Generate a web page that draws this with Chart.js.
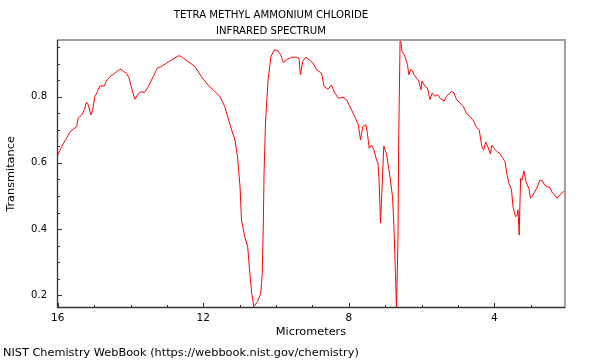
<!DOCTYPE html>
<html><head><meta charset="utf-8">
<script src="https://cdn.jsdelivr.net/npm/chart.js@4"></script>
<style>html,body{margin:0;padding:0;background:#fff}#wrap{width:600px;height:360px;position:relative}</style>
</head><body><div id="wrap"><canvas id="c" width="600" height="360"></canvas></div>
<script>
// ---- data (wavelength in micrometers, transmittance) ----
const wavelength = [
16.00,15.89,15.76,15.66,15.57,15.48,15.44,15.34,15.27,15.21,15.16,15.09,15.04,14.98,14.91,14.84,14.72,14.66,14.57,14.45,
14.34,14.26,14.20,14.11,14.04,13.97,13.88,13.79,13.71,13.62,13.51,13.38,13.26,13.15,13.01,12.87,12.69,12.64,12.55,12.42,
12.23,12.05,11.87,11.68,11.54,11.41,11.32,11.22,11.13,11.06,10.99,10.95,10.86,10.78,10.72,10.67,10.61,10.51,10.42,10.38,
10.35,10.33,10.29,10.22,10.14,10.05,9.96,9.87,9.80,9.71,9.57,9.44,9.37,9.33,9.27,9.18,9.09,8.98,8.89,8.75,
8.68,8.57,8.48,8.38,8.29,8.16,8.06,7.97,7.84,7.74,7.68,7.62,7.53,7.49,7.44,7.38,7.31,7.24,7.20,7.17,
7.13,7.09,7.04,6.96,6.87,6.80,6.76,6.72,6.69,6.65,6.63,6.59,6.54,6.48,6.43,6.39,6.35,6.30,6.25,6.21,
6.14,6.08,6.02,5.99,5.91,5.84,5.77,5.71,5.64,5.56,5.50,5.44,5.38,5.32,5.25,5.18,5.11,5.04,4.95,4.86,
4.77,4.68,4.59,4.49,4.42,4.36,4.33,4.29,4.24,4.18,4.11,4.07,3.99,3.93,3.85,3.78,3.71,3.65,3.60,3.53,
3.49,3.42,3.37,3.35,3.32,3.28,3.24,3.19,3.12,3.05,3.01,2.94,2.84,2.75,2.68,2.62,2.55,2.48,2.40,2.34,
2.28,2.20,2.11,2.06
];
const transmittance = [
0.624,0.649,0.674,0.694,0.702,0.709,0.735,0.745,0.760,0.783,0.775,0.745,0.760,0.800,0.815,0.832,0.832,0.847,0.860,0.869,
0.879,0.883,0.876,0.871,0.856,0.825,0.792,0.808,0.815,0.812,0.830,0.860,0.886,0.891,0.901,0.911,0.923,0.923,0.916,0.906,
0.891,0.860,0.835,0.815,0.800,0.770,0.735,0.699,0.669,0.619,0.528,0.427,0.377,0.347,0.266,0.206,0.166,0.181,0.206,0.266,
0.418,0.569,0.720,0.850,0.921,0.941,0.939,0.926,0.903,0.911,0.919,0.919,0.916,0.866,0.906,0.919,0.911,0.901,0.881,0.871,
0.830,0.822,0.835,0.810,0.795,0.798,0.790,0.770,0.740,0.715,0.669,0.709,0.715,0.689,0.644,0.654,0.639,0.609,0.599,0.548,
0.418,0.518,0.651,0.624,0.558,0.498,0.407,0.266,0.155,0.367,0.669,0.985,0.937,0.927,0.912,0.897,0.866,0.882,0.877,0.866,
0.856,0.847,0.821,0.847,0.831,0.826,0.791,0.811,0.801,0.806,0.796,0.791,0.786,0.801,0.808,0.816,0.811,0.791,0.781,0.771,
0.751,0.740,0.730,0.707,0.701,0.660,0.644,0.639,0.663,0.648,0.627,0.653,0.641,0.634,0.628,0.616,0.604,0.563,0.538,0.518,
0.468,0.437,0.443,0.458,0.382,0.553,0.548,0.576,0.538,0.523,0.493,0.503,0.523,0.548,0.546,0.533,0.528,0.526,0.508,0.503,
0.493,0.503,0.513,0.513
];
const xTickLabels = [16, 12, 8, 4];
const xMinorTicks = [15, 14, 13, 11, 10, 9, 7, 6, 5, 3];
const yTickLabels = [0.2, 0.4, 0.6, 0.8];
const yMinorTicks = [0.25, 0.3, 0.35, 0.45, 0.5, 0.55, 0.65, 0.7, 0.75, 0.85, 0.9, 0.95];
const xRange = [2.06, 16.02];
const yRange = [0.1616, 0.971];
const titleLines = ['TETRA METHYL AMMONIUM CHLORIDE', 'INFRARED SPECTRUM'];
const xTitle = 'Micrometers';
const yTitle = 'Transmitance';
const footerText = 'NIST Chemistry WebBook (https://webbook.nist.gov/chemistry)';

const FONT = '"DejaVu Sans", sans-serif';

const points = wavelength.map((w, i) => ({x: w, y: transmittance[i]}));

const framePlugin = {
  id: 'frame',
  afterDatasetsDraw(chart) {
    const {ctx, chartArea: a, scales: {x, y}} = chart;
    ctx.save();
    ctx.strokeStyle = '#a0a0a0';
    ctx.lineWidth = 2;
    ctx.beginPath();
    ctx.moveTo(a.left, a.top);
    ctx.lineTo(a.right, a.top);
    ctx.lineTo(a.right, a.bottom);
    ctx.stroke();
    ctx.strokeStyle = '#333';
    ctx.lineWidth = 1.3;
    ctx.beginPath();
    ctx.moveTo(a.left + 0.5, a.top);
    ctx.lineTo(a.left + 0.5, a.bottom - 0.5);
    ctx.lineTo(a.right, a.bottom - 0.5);
    ctx.stroke();
    ctx.lineWidth = 1;
    ctx.beginPath();
    const xt = (v, len) => { const p = Math.round(x.getPixelForValue(v)) + 0.5; ctx.moveTo(p, a.bottom); ctx.lineTo(p, a.bottom - len); };
    const yt = (v, len) => { const p = Math.round(y.getPixelForValue(v)) + 0.5; ctx.moveTo(a.left, p); ctx.lineTo(a.left + len, p); };
    xTickLabels.forEach(v => xt(v, 5));
    xMinorTicks.forEach(v => xt(v, 3));
    yTickLabels.forEach(v => yt(v, 5));
    yMinorTicks.forEach(v => yt(v, 3));
    ctx.stroke();
    ctx.restore();
  },
  afterDraw(chart) {
    const ctx = chart.ctx;
    ctx.save();
    ctx.fillStyle = '#000';
    ctx.textAlign = 'center';
    ctx.textBaseline = 'alphabetic';
    ctx.font = 'condensed 11.3px "DejaVu Sans Condensed", "DejaVu Sans", sans-serif';
    if ('fontStretch' in ctx) ctx.fontStretch = 'condensed';
    ctx.fillText(titleLines[0], 271, 17.5);
    ctx.fillText(titleLines[1], 271, 34);
    if ('fontStretch' in ctx) ctx.fontStretch = 'normal';
    ctx.textAlign = 'left';
    ctx.font = '11.3px ' + FONT;
    ctx.fillText(footerText, 3, 356);
    ctx.restore();
  }
};

new Chart(document.getElementById('c'), {
  type: 'line',
  data: {
    datasets: [{
      data: points,
      borderColor: '#ff0000',
      borderWidth: 1,
      pointRadius: 0,
      tension: 0,
      fill: false
    }]
  },
  options: {
    responsive: false,
    animation: false,
    devicePixelRatio: 1,
    layout: {padding: {left: 0, right: 35, top: 40, bottom: 0}},
    plugins: {legend: {display: false}, tooltip: {enabled: false}, title: {display: false}},
    scales: {
      x: {
        type: 'linear',
        reverse: true,
        min: xRange[0],
        max: xRange[1],
        grid: {display: false, drawTicks: false},
        border: {display: false},
        afterBuildTicks: s => { s.ticks = xTickLabels.map(v => ({value: v})); },
        afterFit: s => { s.height = 52; },
        ticks: {autoSkip: false, maxRotation: 0, padding: 4, color: '#000', font: {family: FONT, size: 10.5},
          callback: v => String(v)},
        title: {display: true, text: xTitle, color: '#000', font: {family: FONT, size: 11.3}, padding: {top: 0, bottom: 21.2}}
      },
      y: {
        type: 'linear',
        min: yRange[0],
        max: yRange[1],
        grid: {display: false, drawTicks: false},
        border: {display: false},
        afterBuildTicks: s => { s.ticks = yTickLabels.map(v => ({value: v})); },
        afterFit: s => { s.width = 57; },
        ticks: {autoSkip: false, padding: 10, color: '#000', font: {family: FONT, size: 10},
          callback: v => v.toFixed(1)},
        title: {display: true, text: yTitle, color: '#000', font: {family: FONT, size: 11.3}, padding: {top: 4.2, bottom: 0}}
      }
    }
  },
  plugins: [framePlugin]
});
</script></body></html>
